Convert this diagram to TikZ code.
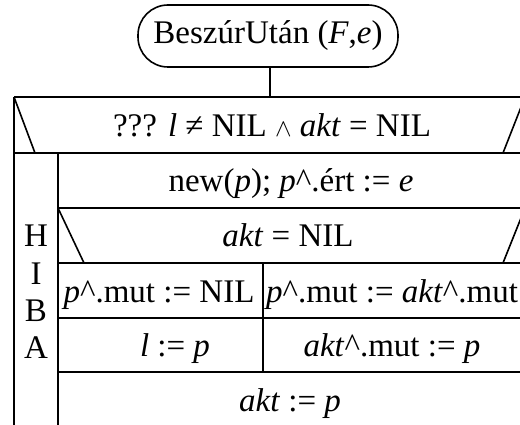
\documentclass[tikz,border=0pt]{standalone}
\usepackage{fontspec}
\setmainfont{Liberation Serif}
\begin{document}
\begin{tikzpicture}[x=1pt,y=-1pt,line width=1.6pt,
  txt/.style={font=\fontsize{33}{37}\selectfont, inner sep=0pt, anchor=base},
  startbox/.style={draw, rounded corners=30pt, minimum width=260pt, minimum height=62pt, inner sep=0pt, font=\fontsize{33}{37}\selectfont}
]
\useasboundingbox (0,0) rectangle (520,425);
\clip (0,0) rectangle (520,425);
% start node
\node[startbox] (title) at (268,36) {\raisebox{-2pt}{BeszúrUtán (\textit{F},\textit{e})}};
\coordinate (T) at (270,97);
\draw (title.south -| T) -- (T);
% outer structure
\draw (14,97) -- (527,97);
\draw (14,97) -- (14,430);
\draw (14,97) -- (35,153);
\draw (503,153) -- (525,97);
\draw (14,153) -- (527,153);
\draw (58,153) -- (58,430);
\draw (58,208) -- (527,208);
\draw (58,208) -- (84,263);
\draw (503,263) -- (525,208);
\draw (58,263) -- (527,263);
\draw (263,263) -- (263,372);
\draw (58,318) -- (527,318);
\draw (57,372) -- (527,372);
% texts
\node[txt] (cond) at (272,137) {??? \textit{l} ≠ NIL $\wedge$ \textit{akt} = NIL};
\node[txt] (new) at (291,192) {new(\textit{p}); \textit{p}\textasciicircum.ért := \textit{e}};
\node[txt] (aktnil) at (288,247) {\textit{akt} = NIL};
\node[txt] (c1) at (159,302) {\textit{p}\textasciicircum.mut := NIL};
\node[txt] (c2) at (392,302) {\textit{p}\textasciicircum.mut := \textit{akt}\textasciicircum.mut};
\node[txt] (c3) at (175,356) {\textit{l} := \textit{p}};
\node[txt] (c4) at (392,356) {\textit{akt}\textasciicircum.mut := \textit{p}};
\node[txt] (c5) at (290,411) {\textit{akt} := \textit{p}};
\node[txt] (h1) at (36,247) {H};
\node[txt] (h2) at (36,284) {I};
\node[txt] (h3) at (36,321) {B};
\node[txt] (h4) at (36,358) {A};
\end{tikzpicture}
\end{document}
